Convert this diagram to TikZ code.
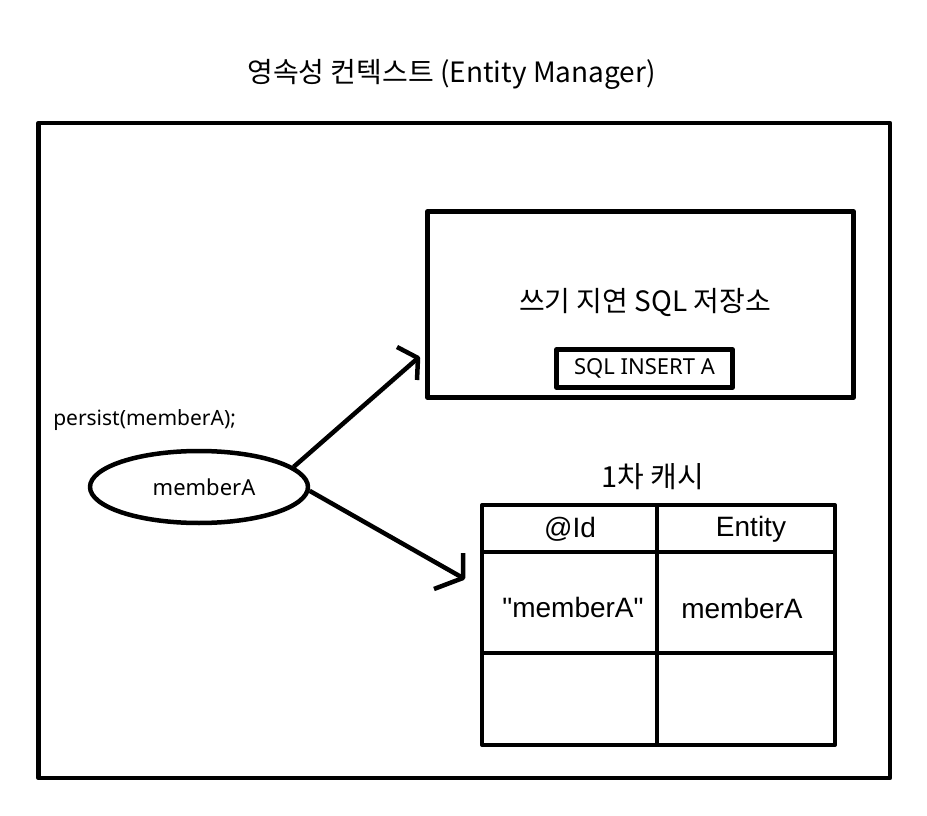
\documentclass[tikz,border=0pt]{standalone}
\usepackage{fontspec}
\setmainfont{Noto Sans}
\newfontfamily\krfont{Noto Sans CJK KR}
\newfontfamily\arialfont{Liberation Sans}
\usetikzlibrary{shapes.geometric}
\begin{document}
\begin{tikzpicture}[x=1pt,y=-1pt,line width=4.5pt,line join=round,
  boxst/.style={draw,rectangle,inner sep=0pt,line width=4.5pt},
  cellst/.style={draw,rectangle,inner sep=0pt,line width=4pt},
  krbig/.style={font=\krfont\fontsize{28}{32}\selectfont,inner sep=0pt},
  latsmall/.style={font=\fontsize{21}{25}\selectfont,inner sep=0pt},
  tabtxt/.style={font=\arialfont\fontsize{28}{32}\selectfont,inner sep=0pt},
  conn/.style={line width=4.5pt}]
\useasboundingbox (0,0) rectangle (927,816);
\fill[white] (0,0) rectangle (927,816);

% title
\node[krbig] (title) at (451.5,74) {영속성 컨텍스트 (Entity Manager)};

% outer frame
\node[boxst,minimum width=851.5pt,minimum height=655pt] (frame) at (464.25,450.5) {};

% write-delay SQL store
\node[boxst,minimum width=426pt,minimum height=186pt] (store) at (640.5,304.5) {};
\node[krbig] (storetitle) at (645,302) {쓰기 지연 SQL 저장소};
\node[boxst,minimum width=176pt,minimum height=38pt,font=\fontsize{22}{26}\selectfont,inner sep=0pt] (sqlbox) at (644.5,368.5) {SQL INSERT A};

% persist label and entity ellipse
\node[latsmall,anchor=west] (persist) at (51,420) {persist(memberA);};
\node[draw,ellipse,line width=4.5pt,minimum width=218pt,minimum height=72pt,inner sep=0pt,font=\fontsize{22}{26}\selectfont] (ell) at (199,487) {\hspace*{10pt}memberA};

% first-level cache
\node[font=\krfont\fontsize{29}{33}\selectfont,inner sep=0pt] (cachetitle) at (652.5,477) {1차 캐시};
\node[cellst,minimum width=174.5pt,minimum height=47pt] (c11) at (569.25,528.5) {};
\node[cellst,minimum width=178.5pt,minimum height=47pt] (c12) at (745.75,528.5) {};
\node[cellst,minimum width=174.5pt,minimum height=101pt] (c21) at (569.25,602.5) {};
\node[cellst,minimum width=178.5pt,minimum height=101pt] (c22) at (745.75,602.5) {};
\node[cellst,minimum width=174.5pt,minimum height=92pt] (c31) at (569.25,699) {};
\node[cellst,minimum width=178.5pt,minimum height=92pt] (c32) at (745.75,699) {};
\node[tabtxt] (hid) at (570,529) {@Id};
\node[tabtxt] (hent) at (751,529) {Entity};
\node[tabtxt] (vid) at (573,607) {"memberA"};
\node[tabtxt] (vent) at (742,608) {memberA};

% connectors
\coordinate (tipA) at (418,358);
\coordinate (tipB) at (463,578);
\draw[conn] (ell.12) -- (tipA);
\draw[conn] ([shift={(-21,-11)}]tipA) -- (tipA) -- ([shift={(-1,22)}]tipA);
\draw[conn] (ell.-2) -- (tipB);
\draw[conn] ([shift={(0,-25)}]tipB) -- (tipB) -- ([shift={(-29,11)}]tipB);
\end{tikzpicture}
\end{document}
